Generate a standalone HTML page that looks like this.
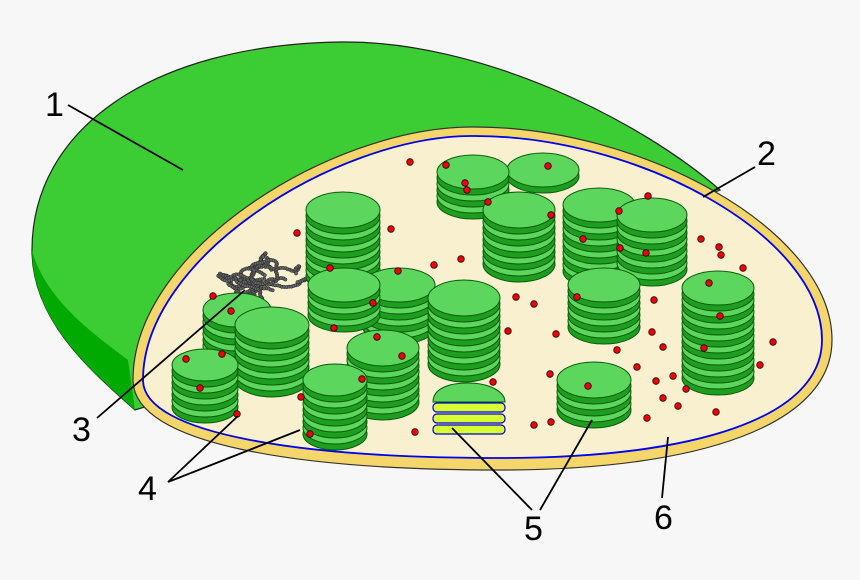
<!DOCTYPE html>
<html><head><style>html,body{margin:0;padding:0;background:#f7f7f7}svg{display:block}</style></head>
<body>
<svg id="s" width="860" height="580" viewBox="0 0 860 580" xmlns="http://www.w3.org/2000/svg">
<rect width="860" height="580" fill="#f7f7f7"/>
<path d="M135,410 C90,370 32,320 32,250 C32,130 150,45 340,42 C480,40 640,120 720,190 L400,330 Z" fill="#3ccc33" stroke="#222" stroke-width="1.2"/>
<path d="M32,250 C45,300 95,335 128,360 L135,410 C90,370 32,320 32,250Z" fill="#00aa00"/>
<path d="M133,380 C133,250 330,128 470,127 C640,125 832,230 832,340 C832,425 700,470 500,470 C300,470 133,445 133,380 Z" fill="#f5d66b" stroke="#333" stroke-width="1.2"/>
<path d="M143,380 C143,258 335,137 470,136 C635,134 822,235 822,340 C822,418 695,458 500,458 C305,458 143,435 143,380 Z" fill="#f9f0d0" stroke="#0000ee" stroke-width="1.8"/>
<g id="g"></g>
<g stroke="#000" stroke-width="1.8" fill="none">
<path d="M68,105 L183,170"/><path d="M755,167 L703,197"/><path d="M97,418 L245,290"/>
<path d="M168,482 L238,416 M168,482 L300,430"/><path d="M532,510 L452,428 M540,510 L592,420"/><path d="M662,498 L668,437"/>
</g>
<g font-family="Liberation Sans, sans-serif" font-size="34" fill="#000">
<text x="45" y="116">1</text><text x="757" y="165">2</text><text x="72" y="441">3</text>
<text x="138" y="500">4</text><text x="524" y="540">5</text><text x="654" y="529">6</text>
</g>
</svg>
<script>
var g=document.getElementById('g'),NS='http://www.w3.org/2000/svg';
function el(t,a){var e=document.createElementNS(NS,t);for(var k in a)e.setAttribute(k,a[k]);g.appendChild(e);return e;}
var seed=7;function rnd(){seed=(seed*9301+49297)%233280;return seed/233280;}
function stack(cx,cy,rx,ry,n){
 for(var i=n-1;i>=0;i--){var y=cy+i*12;
  el('ellipse',{cx:cx,cy:y+6,rx:rx,ry:ry,fill:'#1e9e1e',stroke:'#0a5a0a','stroke-width':1});
  el('ellipse',{cx:cx,cy:y,rx:rx,ry:ry,fill:'#5cd65c',stroke:'#0a5a0a','stroke-width':1});}
}
function dot(x,y){el('circle',{cx:x,cy:y,r:3.3,fill:'#e00',stroke:'#300','stroke-width':0.8});}
// chromatin: loopy bead chains
for(var c=0;c<14;c++){var x=230+rnd()*60,y=262+rnd()*36,a=rnd()*6.283;
 for(var i=0;i<28;i++){a+=(rnd()-0.5)*1.2;x+=Math.cos(a)*2.4;y+=Math.sin(a)*1.6;
  if(Math.pow((x-262)/45,2)+Math.pow((y-280)/28,2)>1){a+=3.14;continue;}
  el('circle',{cx:x,cy:y,r:1.7,fill:'#666',stroke:'#222','stroke-width':0.5});}}
var S=[[543,170,36,17,1],[473,172,36,17,3],[599,205,36,17,6],[343,210,37,18,6],[652,215,35,17,5],[519,210,36,18,5],
[604,285,36,17,4],[718,288,36,17,8],[399,285,36,17,4],[344,285,36,17,3],[464,298,36,18,6],[237,310,34,17,4],[272,325,37,18,5],
[383,348,36,18,5],[205,365,33,16,4],[335,380,32,16,5],[594,380,37,18,3]];
S.forEach(function(s){stack.apply(null,s);});
el('path',{d:'M433,402 C433,388 450,383 468,383 C490,383 505,392 505,402 Z',fill:'#5cd65c',stroke:'#0a5a0a'});
for(var k=0;k<3;k++){el('rect',{x:433,y:403+k*11,width:72,height:9,rx:4,fill:'#d8ff33',stroke:'#0000cc','stroke-width':1.2});}
var D=[[410,162],[446,165],[465,183],[467,190],[488,202],[548,166],[297,233],[391,229],[330,268],[398,271],[434,265],[461,259],[551,215],[619,211],[583,239],[620,248],[648,196],[646,253],[701,239],[719,247],[721,255],[743,268],[709,283],[720,316],[704,348],[760,365],[773,342],[516,297],[534,304],[577,297],[556,334],[508,331],[617,350],[654,300],[652,332],[663,347],[637,367],[656,381],[673,376],[686,389],[663,398],[678,406],[647,418],[716,412],[550,374],[588,386],[551,422],[534,425],[493,382],[415,432],[310,434],[301,397],[237,414],[200,388],[186,359],[222,354],[213,296],[231,311],[334,328],[373,303],[377,337],[402,356],[362,379]];
D.forEach(function(d){dot(d[0],d[1]);});
</script>
</body></html>
